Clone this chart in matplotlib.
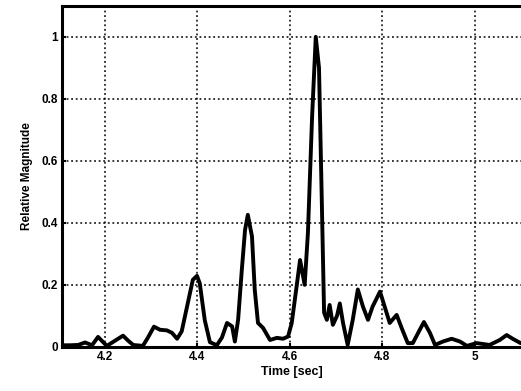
import matplotlib.pyplot as plt

# time (sec) and relative magnitude
time_sec = [4.107, 4.124, 4.142, 4.157, 4.172, 4.185, 4.196, 4.204, 4.222, 4.239,
            4.250, 4.261, 4.282, 4.293, 4.306, 4.319, 4.334, 4.345, 4.356, 4.366,
            4.379, 4.390, 4.399, 4.405, 4.416, 4.427, 4.442, 4.453, 4.464, 4.475,
            4.481, 4.488, 4.496, 4.503, 4.509, 4.518, 4.524, 4.531, 4.542, 4.557,
            4.572, 4.585, 4.596, 4.604, 4.615, 4.622, 4.632, 4.639, 4.648, 4.656,
            4.663, 4.669, 4.674, 4.680, 4.686, 4.693, 4.702, 4.708, 4.715, 4.725,
            4.736, 4.747, 4.758, 4.769, 4.779, 4.795, 4.805, 4.816, 4.831, 4.842,
            4.855, 4.866, 4.881, 4.890, 4.903, 4.914, 4.931, 4.950, 4.968, 4.983,
            5.004, 5.032, 5.054, 5.069, 5.082, 5.099]
magnitude = [0.005, 0.005, 0.006, 0.014, 0.005, 0.032, 0.015, 0.003, 0.020, 0.036,
             0.020, 0.006, 0.003, 0.030, 0.065, 0.055, 0.053, 0.045, 0.026, 0.050,
             0.140, 0.216, 0.229, 0.205, 0.085, 0.015, 0.005, 0.030, 0.077, 0.066,
             0.017, 0.087, 0.248, 0.377, 0.426, 0.356, 0.184, 0.077, 0.061, 0.022,
             0.029, 0.026, 0.033, 0.077, 0.200, 0.280, 0.200, 0.367, 0.740, 1.000,
             0.900, 0.474, 0.110, 0.087, 0.135, 0.071, 0.100, 0.140, 0.077, 0.006,
             0.087, 0.185, 0.130, 0.087, 0.130, 0.178, 0.130, 0.077, 0.103, 0.060,
             0.012, 0.012, 0.055, 0.080, 0.045, 0.006, 0.017, 0.026, 0.017, 0.003,
             0.012, 0.006, 0.022, 0.038, 0.026, 0.012]

x_ticks = [4.2, 4.4, 4.6, 4.8, 5.0]
x_tick_labels = ['4.2', '4.4', '4.6', '4.8', '5']
y_ticks = [0, 0.2, 0.4, 0.6, 0.8, 1.0]
y_tick_labels = ['0', '0.2', '0.4', '0.6', '0.8', '1']

plt.rcParams['font.family'] = ['Liberation Sans', 'DejaVu Sans']
plt.rcParams['font.weight'] = 'bold'

fig = plt.figure(figsize=(5.21, 3.91), dpi=100)
ax = fig.add_axes([0.119, 0.113, 0.881, 0.872])

ax.plot(time_sec, magnitude, color='black', linewidth=2.8,
        solid_joinstyle='round', solid_capstyle='round')

ax.set_xlim(4.107, 5.1)
ax.set_ylim(0, 1.1)
ax.set_xticks(x_ticks)
ax.set_xticklabels(x_tick_labels)
ax.set_yticks(y_ticks)
ax.set_yticklabels(y_tick_labels)
ax.tick_params(direction='in', length=3, width=1.5, labelsize=8.5, pad=3)
ax.grid(True, linestyle=(0, (1.2, 1.8)), color='black', linewidth=1.1)

for side in ['left', 'bottom', 'top']:
    ax.spines[side].set_linewidth(2.2)
ax.spines['right'].set_visible(False)

ax.set_xlabel('Time [sec]', fontsize=9, fontweight='bold', labelpad=2)
ax.set_ylabel('Relative Magnitude', fontsize=8.5, fontweight='bold', labelpad=6)

fig.savefig('out.png', dpi=100)
